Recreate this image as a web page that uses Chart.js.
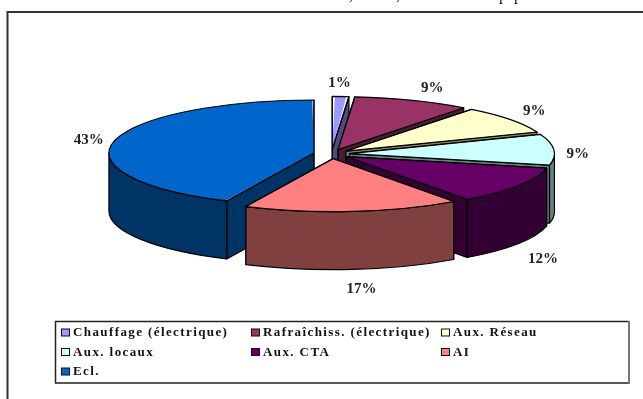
<!DOCTYPE html>
<html><head><meta charset="utf-8">
<script src="https://cdn.jsdelivr.net/npm/chart.js@4"></script>
<style>html,body{margin:0;padding:0;background:#fff}canvas{display:block}</style>
</head><body><canvas id="c" width="643" height="399"></canvas>
<script>
const categories = ['Chauffage (électrique)','Rafraîchiss. (électrique)','Aux. Réseau','Aux. locaux','Aux. CTA','AI','Ecl.'];
const shares = [1.3,9.2,8.6,9.4,11.5,17.0,43.0];
const faceColors = ['#9999FF','#993366','#FFFFCC','#CCFFFF','#660066','#FF8080','#0066CC'];
const wallColors = ['#4C4C80','#4D1A33','#808066','#668080','#330033','#804040','#003366'];
const topFragments = [[',',349],[',',396],['p',499],['p',514]];

// label placement relative to the slice's outer edge
const labelNudge = [[-1,-13],[20,-12],[24,-8],[24,4],[25,73],[9,78],[-25,-1]];
const RADIUS = 205, SQUASH = 53/205, DEPTH = 58, EXPLODE = 18, CY = 154;

function pt(a, ang, r){
  const mid=(a.startAngle+a.endAngle)/2;
  return {x:a.x+Math.cos(mid)*EXPLODE+Math.cos(ang)*r, y:a.y+SQUASH*(Math.sin(mid)*EXPLODE+Math.sin(ang)*r)};
}
function topPath(ctx,a){
  const o=pt(a,0,0);
  ctx.beginPath();ctx.moveTo(o.x,o.y);
  ctx.ellipse(o.x,o.y,RADIUS,RADIUS*SQUASH,0,a.startAngle,a.endAngle);
  ctx.closePath();
}
const pie3d = {
  id:'pie3d',
  afterDatasetsUpdate(chart){
    // the arc element grows its radius with its offset, by an amount that depends on its sweep: cancel it
    chart.getDatasetMeta(0).data.forEach(a=>{
      const fix=1-Math.sin(Math.min(Math.PI,a.circumference||0));
      a.outerRadius=RADIUS-EXPLODE*fix;
    });
  },
  beforeDatasetsDraw(chart){
    const ctx=chart.ctx, arcs=chart.getDatasetMeta(0).data;
    const order=arcs.map((a,i)=>i).sort((p,q)=>Math.sin((arcs[p].startAngle+arcs[p].endAngle)/2)-Math.sin((arcs[q].startAngle+arcs[q].endAngle)/2));
    ctx.save();ctx.lineWidth=1.2;ctx.strokeStyle='#000';ctx.lineJoin='round';
    order.forEach(i=>{
      const a=arcs[i],r=RADIUS,o=pt(a,0,0);
      ctx.fillStyle=wallColors[i];
      [a.startAngle,a.endAngle].forEach(ang=>{
        const e=pt(a,ang,r);
        ctx.beginPath();ctx.moveTo(o.x,o.y);ctx.lineTo(e.x,e.y);ctx.lineTo(e.x,e.y+DEPTH);ctx.lineTo(o.x,o.y+DEPTH);ctx.closePath();
        ctx.fill();ctx.stroke();
      });
      const s=Math.max(a.startAngle,0), t=Math.min(a.endAngle,Math.PI);
      if(t>s){
        ctx.beginPath();
        ctx.ellipse(o.x,o.y,r,r*SQUASH,0,s,t);
        ctx.ellipse(o.x,o.y+DEPTH,r,r*SQUASH,0,t,s,true);
        ctx.closePath();ctx.fill();ctx.stroke();
      }
    });
    ctx.restore();
  },
  beforeDatasetDraw(chart){
    const ctx=chart.ctx;
    ctx.save();ctx.translate(0,CY);ctx.scale(1,SQUASH);ctx.translate(0,-CY);
  },
  afterDatasetDraw(chart){
    const ctx=chart.ctx, arcs=chart.getDatasetMeta(0).data;
    ctx.restore();
    ctx.save();ctx.lineWidth=1.2;ctx.strokeStyle='#000';ctx.lineJoin='round';
    arcs.forEach(a=>{topPath(ctx,a);ctx.stroke();});
    ctx.restore();
  },
  afterDraw(chart){
    const ctx=chart.ctx, arcs=chart.getDatasetMeta(0).data;
    ctx.save();
    // outer frame (open on the right and bottom, cropped by the page)
    ctx.strokeStyle='#333';ctx.lineWidth=2;
    ctx.beginPath();ctx.moveTo(7.5,399);ctx.lineTo(7.5,12);ctx.lineTo(643,12);ctx.stroke();
    // cropped running text above the frame
    ctx.fillStyle='#111';ctx.font='16px "Liberation Serif"';ctx.textBaseline='alphabetic';ctx.textAlign='left';
    topFragments.forEach(([t,x])=>ctx.fillText(t,x,0));
    // percentage labels
    ctx.fillStyle='#222';ctx.font='bold 15px "Liberation Serif"';ctx.textAlign='center';ctx.textBaseline='middle';
    arcs.forEach((a,i)=>{
      const mid=(a.startAngle+a.endAngle)/2,e=pt(a,mid,RADIUS);
      ctx.fillText(Math.round(shares[i])+'%',e.x+labelNudge[i][0],e.y+labelNudge[i][1]);
    });
    // legend box
    ctx.fillStyle='#fff';ctx.fillRect(55,321,574,62);
    ctx.strokeStyle='#222';ctx.lineWidth=1.5;
    ctx.beginPath();ctx.moveTo(629,321.5);ctx.lineTo(55.5,321.5);ctx.lineTo(55.5,383);ctx.lineTo(629,383);ctx.stroke();
    ctx.strokeStyle='#777';ctx.lineWidth=2;
    ctx.beginPath();ctx.moveTo(629,321);ctx.lineTo(629,384);ctx.stroke();
    const colX=[61,251,441], rowY=[332.5,352,371.5];
    ctx.font='bold 13px "Liberation Serif"';ctx.textAlign='left';ctx.textBaseline='middle';
    ctx.letterSpacing='1.4px';
    categories.forEach((c,i)=>{
      const x=colX[i%3], y=rowY[Math.floor(i/3)];
      ctx.fillStyle=faceColors[i];ctx.strokeStyle='#111';ctx.lineWidth=1;
      ctx.fillRect(x,y-3.5,8,7);ctx.strokeRect(x+.5,y-3.5,8,7);
      ctx.fillStyle='#111';ctx.fillText(c,x+12,y+.5);
    });
    ctx.restore();
  }
};
new Chart(document.getElementById('c'),{
  type:'pie',
  data:{labels:categories,datasets:[{data:shares,backgroundColor:faceColors,borderWidth:0,offset:EXPLODE*4,clip:false}]},
  options:{
    responsive:false,animation:false,radius:RADIUS,
    layout:{padding:{left:20,right:0,top:0,bottom:91}},
    plugins:{legend:{display:false},tooltip:{enabled:false},title:{display:false}},
    events:[]
  },
  plugins:[pie3d]
});
</script></body></html>
